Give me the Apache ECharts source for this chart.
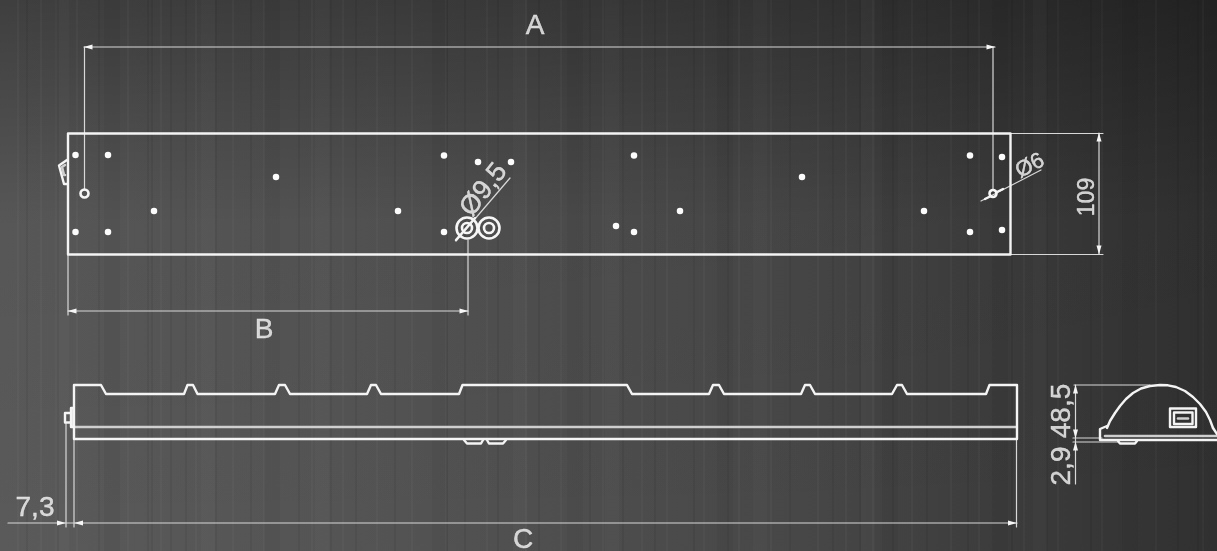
<!DOCTYPE html>
<html><head><meta charset="utf-8">
<style>html,body{margin:0;padding:0;background:#444}#c{width:1217px;height:551px}</style>
<script src="https://cdn.jsdelivr.net/npm/echarts@6/dist/echarts.min.js"></script>
</head><body><div id="c"></div>
<script>
// Drawing geometry, in picture units
const plateOutline=[[68,133.5],[1010.5,133.5],[1010.5,254.5],[68,254.5],[68,133.5]];
const leftTab=[[67,160],[59,165.5],[64,184],[67,184]];
const leftTabInner=[[65,165],[62,167],[64,175],[65,175]];
const sideOutline=[[74,439],[74,385],[101,385],[106,394],[184,394],[187.5,385],[193,385],[197.5,394],[275,394],[279,385],[285,385],[290,394],[367,394],[371,385],[376,385],[381,394],[459,394],[462.5,385],[627,385],[632,394],[709,394],[713,385],[719,385],[724,394],[801,394],[805,385],[810,385],[815,394],[892,394],[897,385],[902,385],[907,394],[986,394],[989.5,385],[1017,385],[1017,439],[74,439]];
const sideRail=[[74,427],[1016,427]];
const bumpA=[[464,440],[467,443.5],[481,443.5],[483,440]];
const bumpB=[[487,440],[489,443.5],[503,443.5],[506,440]];
const connectorOuter=[[71,408],[73.5,408],[73.5,427],[71,427],[71,408]];
const connectorInner=[[71,413],[65,413],[65,422.5],[71,422.5]];
const dome=[[1107,428],[1110,421],[1115,413],[1120,406],[1126,399],[1133,393],[1141,388.5],[1150,386],[1160,385],[1168,385.3],[1176,387],[1185,391],[1193,397],[1200,404],[1206,412],[1210,420],[1213,428]];
const flange=[[1107,426],[1100,429],[1100,440],[1217,440]];
const profileTop=[[1105,436],[1217,436]];
const domeFoot=[[1213,428],[1217,434]];
const profileBump=[[1118,441],[1120,443.5],[1135,443.5],[1137,441]];
const windowOuter=[[1170,408.5],[1196,408.5],[1196,427],[1170,427],[1170,408.5]];
const windowInner=[[1174,412.5],[1192.5,412.5],[1192.5,424],[1174,424],[1174,412.5]];
const windowCore=[[1178,418.5],[1188,418.5]];
const slash95=[[456,240],[475,218]];
const stub6a=[[985,199],[991,196]];
const stub6b=[[997,192],[1003,189]];
const heavyLines=[plateOutline,sideOutline,bumpA,bumpB,connectorOuter,connectorInner,dome,flange,profileBump,windowOuter,windowInner,leftTab,domeFoot,slash95,stub6a,stub6b];
const railLines=[sideRail,profileTop,windowCore,leftTabInner];

const dimA=[[84,47],[995,47]];
const extA1=[[84.5,47],[84.5,190]];
const extA2=[[993,47],[993,190]];
const dim109=[[1099,133],[1099,254]];
const ext109a=[[1011,133.5],[1103,133.5]];
const ext109b=[[1011,254.5],[1103,254.5]];
const dimB=[[68,311],[468,311]];
const extB1=[[68,254],[68,315]];
const extB2=[[468,240],[468,315]];
const dimC=[[8,523],[1017,523]];
const extC1=[[66,423],[66,527]];
const extC2=[[74,439],[74,527]];
const extC3=[[1016.5,439],[1016.5,527]];
const leader95=[[456,241],[510,178]];
const leader6=[[981,201],[1041,170]];
const dimProfile=[[1075.5,385],[1075.5,484]];
const extP1=[[1074,385],[1150,385]];
const extP2=[[1073,438],[1102,438]];
const extP3=[[1073,442],[1118,442]];
const thinLines=[dimA,extA1,extA2,dim109,ext109a,ext109b,dimB,extB1,extB2,dimC,extC1,extC2,extC3,leader95,leader6,dimProfile,extP1,extP2,extP3];

const holeDots=[[75.5,155],[108,155],[75.5,232],[108,232],[154,211],[276,177],[398,211],[444,155.5],[444,232],[478,162],[511,162],[634,155.5],[634,232],[616,226],[680,211],[802,177],[924,211],[970,155.5],[970,232],[1002,157],[1002,230]];
const ringHoles=[[84.5,193.5,8],[993,193.5,7],[467,228,21],[467,228,10],[489,228,21],[489,228,10]];
const arrowHeads=[[88,47,90],[991,47,-90],[1099,137,0],[1099,250,180],[72,311,90],[464,311,-90],[61.5,523,-90],[78.5,523,90],[1012.5,523,-90],[1075.5,389,0],[1075.5,434,180],[1075.5,446,0]];

const labelTexts=["A","B","C","7,3","109","48,5","2,9","Ø9,5","Ø6"];
const labelPoints=[[535,26],[264,330],[523,540],[35,508],[1088,197],[1062,411],[1062,466],[484,190],[1030,166]];
const labelAngles=[0,0,0,0,90,90,90,52,28];
const labelSizes=[28,28,28,28,23,28,28,27,22];

// Vertical brushed streaks noted across the backdrop
const lightThin=[18,41,77,128,161,196,233,264,312,343,377,412,446,487,526,561,603,642,667,704,739,771,818,846,873,912,951,979,1024,1058,1102,1156,1203];
const darkThin=[27,58,99,148,152,171,186,216,251,299,331,356,395,447,465,498,539,590,623,655,694,728,790,833,860,893,927,968,1012,1047,1091,1178,1198];
const lightWide=[62,208,322,520,612,760,868,1040];
const darkWide=[112,272,440,575,725,890,1000,1130];

const line=(data,color,width)=>({type:'line',data,showSymbol:false,silent:true,connectNulls:false,lineStyle:{color,width,cap:'round',join:'round'},z:3});
const streak=(xs,color,width)=>({type:'line',showSymbol:false,silent:true,connectNulls:false,z:1,
  data:xs.flatMap(x=>[[x,0],[x,551],[x,null]]),lineStyle:{color,width}});

const series=[
  streak(lightWide,'rgba(255,255,255,0.018)',14),
  streak(darkWide,'rgba(0,0,0,0.035)',16),
  streak(lightThin,'rgba(255,255,255,0.028)',2.5),
  streak(darkThin,'rgba(0,0,0,0.055)',2),
  ...thinLines.map(d=>line(d,'#d8d8d8',1.2)),
  ...railLines.map(d=>line(d,'#cfcfcf',2.6)),
  ...heavyLines.map(d=>line(d,'#f4f4f4',2.4)),
  {type:'scatter',silent:true,z:5,symbol:'circle',symbolSize:6.5,data:holeDots,itemStyle:{color:'#fcfcfc',opacity:1}},
  {type:'scatter',silent:true,z:5,symbol:'circle',data:ringHoles.map(r=>({value:[r[0],r[1]],symbolSize:r[2]})),
    itemStyle:{color:'transparent',borderColor:'#f6f6f6',borderWidth:2.6,opacity:1}},
  {type:'scatter',silent:true,z:6,symbol:'triangle',symbolSize:[5,9],
    data:arrowHeads.map(a=>({value:[a[0],a[1]],symbolRotate:a[2]})),itemStyle:{color:'#f6f6f6',opacity:1}},
  {type:'scatter',silent:true,z:7,symbol:'circle',symbolSize:1,itemStyle:{color:'transparent'},
    data:labelTexts.map((t,i)=>({name:t,value:labelPoints[i],label:{show:true,formatter:t,position:'inside',align:'center',verticalAlign:'middle',rotate:labelAngles[i],fontSize:labelSizes[i],fontFamily:'"Liberation Sans",Arial,sans-serif',color:'#f6f6f6',textBorderColor:'#f6f6f6',textBorderWidth:0.4}}))}
];

const chart=echarts.init(document.getElementById('c'),null,{renderer:'canvas'});
chart.setOption({
  animation:false,
  backgroundColor:{type:'linear',x:0,y:0,x2:1,y2:0,colorStops:[{offset:0,color:'#5a5a5a'},{offset:0.33,color:'#535353'},{offset:0.66,color:'#474747'},{offset:1,color:'#303030'}]},
  graphic:[{type:'rect',z:0,silent:true,shape:{x:0,y:0,width:1217,height:551},
    style:{fill:{type:'linear',x:0,y:0,x2:0,y2:1,colorStops:[{offset:0,color:'rgba(0,0,0,0.3)'},{offset:0.4,color:'rgba(0,0,0,0.04)'},{offset:1,color:'rgba(0,0,0,0)'}]}}}],
  grid:{left:0,right:0,top:0,bottom:0},
  xAxis:{type:'value',min:0,max:1217,show:false},
  yAxis:{type:'value',min:0,max:551,inverse:true,show:false},
  tooltip:{show:false},legend:{show:false},
  series
});
</script></body></html>
